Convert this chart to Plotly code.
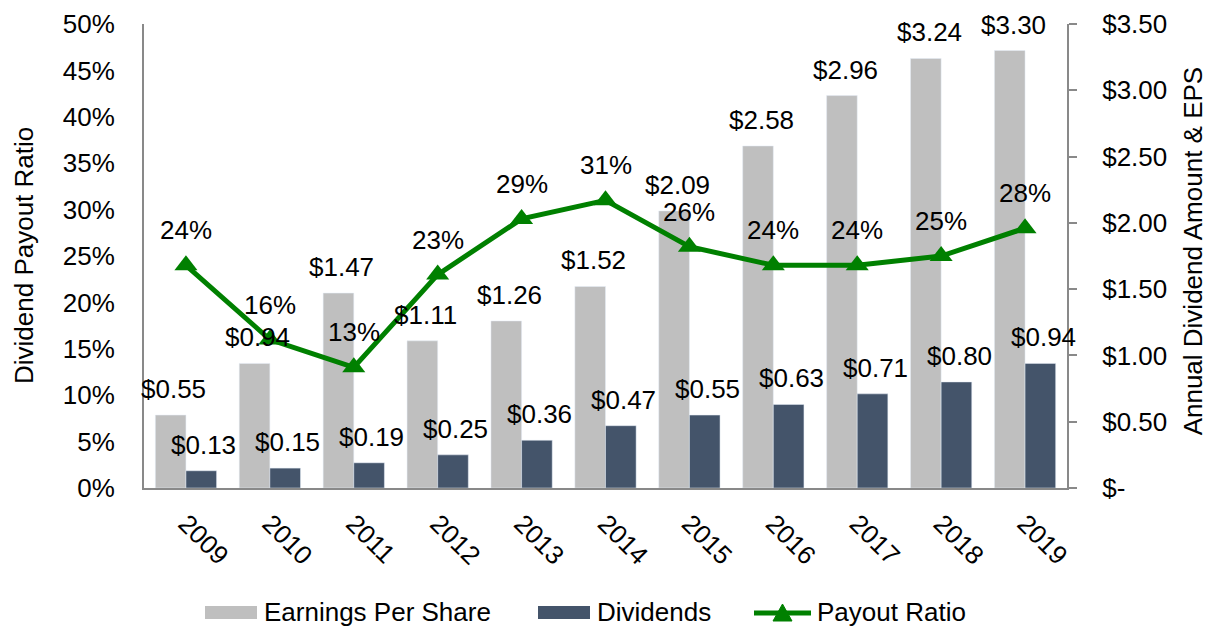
import plotly.graph_objects as go

# Annual figures
years = ["2009", "2010", "2011", "2012", "2013", "2014", "2015", "2016", "2017", "2018", "2019"]
eps = [0.55, 0.94, 1.47, 1.11, 1.26, 1.52, 2.09, 2.58, 2.96, 3.24, 3.30]
dividends = [0.13, 0.15, 0.19, 0.25, 0.36, 0.47, 0.55, 0.63, 0.71, 0.80, 0.94]
payout = [0.24, 0.16, 0.13, 0.23, 0.29, 0.31, 0.26, 0.24, 0.24, 0.25, 0.28]

# Right-hand dollar axis ticks
dollar_ticks = [0, 0.5, 1.0, 1.5, 2.0, 2.5, 3.0, 3.5]
dollar_tick_text = ["$-", "$0.50", "$1.00", "$1.50", "$2.00", "$2.50", "$3.00", "$3.50"]

GREY = "#BFBFBF"
NAVY = "#44546A"
GREEN = "#008000"
AXIS = "#898989"
FONT = "Arial, 'Liberation Sans', sans-serif"
FS = 26

W, H = 1207, 628
ML, MR, MT, MB = 144, 140, 24, 140
PW, PH = W - ML - MR, H - MT - MB


def px_x(p):
    """Convert a pixel column to paper x."""
    return (p - ML) / PW


def px_y(p):
    """Convert a pixel row to paper y."""
    return (H - MB - p) / PH


fig = go.Figure()

fig.add_trace(go.Bar(x=years, y=eps, name="Earnings Per Share", marker_color=GREY,
                     yaxis="y", offsetgroup="eps"))
fig.add_trace(go.Bar(x=years, y=dividends, name="Dividends", marker_color=NAVY,
                     yaxis="y", offsetgroup="div"))
fig.add_trace(go.Scatter(x=years, y=payout, name="Payout Ratio", mode="lines+markers",
                         line=dict(color=GREEN, width=5),
                         marker=dict(symbol="triangle-up", size=20, color=GREEN),
                         yaxis="y2"))

annotations = []
for i, v in enumerate(eps):
    annotations.append(dict(x=i, y=v, xref="x", yref="y", text=f"${v:.2f}",
                            showarrow=False, xshift=-12, yshift=26, yanchor="middle"))
for i, v in enumerate(dividends):
    annotations.append(dict(x=i, y=v, xref="x", yref="y", text=f"${v:.2f}",
                            showarrow=False, xshift=18, yshift=26, yanchor="middle"))
for i, v in enumerate(payout):
    annotations.append(dict(x=i, y=v, xref="x", yref="y2", text=f"{round(v * 100)}%",
                            showarrow=False, yshift=35, yanchor="middle"))

# axis titles
annotations.append(dict(x=px_x(24), y=0.5, xref="paper", yref="paper",
                        text="Dividend Payout Ratio", textangle=-90, showarrow=False,
                        xanchor="center", yanchor="middle"))
annotations.append(dict(x=px_x(1193), y=0.51, xref="paper", yref="paper",
                        text="Annual Dividend Amount &amp; EPS", textangle=-90,
                        showarrow=False, xanchor="center", yanchor="middle"))

# legend along the bottom
LEG_Y = 612
legend_items = [("Earnings Per Share", GREY, 205, 262),
                ("Dividends", NAVY, 538, 595)]
shapes = []
for label, color, x0, tx in legend_items:
    shapes.append(dict(type="rect", xref="paper", yref="paper",
                       x0=px_x(x0), x1=px_x(x0 + 52), y0=px_y(LEG_Y + 7), y1=px_y(LEG_Y - 6),
                       fillcolor=color, line=dict(width=0)))
    annotations.append(dict(x=px_x(tx), y=px_y(LEG_Y), xref="paper", yref="paper",
                            text=label, showarrow=False, xanchor="left", yanchor="middle"))
shapes.append(dict(type="line", xref="paper", yref="paper",
                   x0=px_x(754), x1=px_x(811), y0=px_y(LEG_Y + 1), y1=px_y(LEG_Y + 1),
                   line=dict(color=GREEN, width=5)))
tri = (f"M {px_x(773)} {px_y(LEG_Y + 9)} L {px_x(792)} {px_y(LEG_Y + 9)} "
       f"L {px_x(782.5)} {px_y(LEG_Y - 8)} Z")
shapes.append(dict(type="path", xref="paper", yref="paper", path=tri,
                   fillcolor=GREEN, line=dict(color=GREEN, width=1)))
annotations.append(dict(x=px_x(815), y=px_y(LEG_Y), xref="paper", yref="paper",
                        text="Payout Ratio", showarrow=False, xanchor="left", yanchor="middle"))

fig.update_layout(
    width=W, height=H,
    margin=dict(l=ML, r=MR, t=MT, b=MB),
    paper_bgcolor="white", plot_bgcolor="white",
    font=dict(family=FONT, size=FS, color="black"),
    barmode="group", bargap=0.27, bargroupgap=0,
    showlegend=False,
    annotations=annotations,
    shapes=shapes,
    xaxis=dict(type="category", range=[-0.5, len(years) - 0.5], showline=True,
               linecolor=AXIS, linewidth=2, ticks="", tickangle=45, showgrid=False,
               ticklabelstandoff=8, automargin=False),
    yaxis=dict(side="right", range=[0, 3.5], tickvals=dollar_ticks, ticktext=dollar_tick_text,
               showline=True, linecolor=AXIS, linewidth=2, ticks="outside", ticklen=8,
               tickcolor=AXIS, tickwidth=2, showgrid=False, zeroline=False,
               ticklabelstandoff=20, automargin=False),
    yaxis2=dict(side="left", overlaying="y", range=[0, 0.5], dtick=0.05, tickformat=".0%",
                showline=True, linecolor=AXIS, linewidth=2, ticks="", showgrid=False,
                zeroline=False, ticklabelstandoff=22, automargin=False),
)

fig.write_html("out.html")
